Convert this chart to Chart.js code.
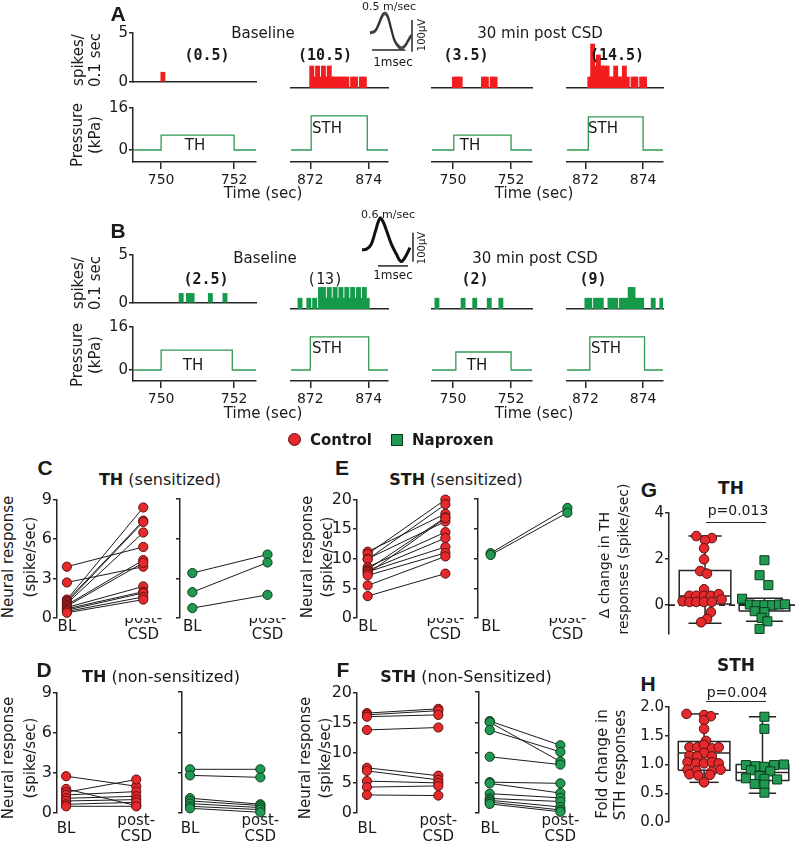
<!DOCTYPE html>
<html>
<head>
<meta charset="utf-8">
<script src="https://cdn.jsdelivr.net/npm/chart.js@4.4.1/dist/chart.umd.min.js"></script>
<style>
  html, body { margin: 0; padding: 0; background: #fff; overflow: hidden; }
  #fig { position: relative; width: 799px; height: 853px; overflow: hidden; background: #fff;
         font-family: "DejaVu Sans", Verdana, sans-serif; color: #1a1a1a; }
  #fig canvas { position: absolute; }
  .lbl { position: absolute; white-space: nowrap; line-height: 1; }
</style>
</head>
<body>
<div id="fig"></div>
<script>
// ---------------------------------------------------------------------------
// DATA
// ---------------------------------------------------------------------------

// Spike histograms: [bin start (sec), spikes in that 0.1 sec bin]
const histA_baseTH  = [[750.0, 1]];
const histA_baseSTH = [[872.0, 2], [872.1, 1], [872.2, 2], [872.3, 1], [872.4, 2], [872.5, 1], [872.6, 2],
                       [872.7, 1], [872.8, 1], [872.9, 1], [873.0, 1], [873.1, 1], [873.2, 1],
                       [873.4, 1], [873.5, 1], [873.7, 1], [873.8, 1]];
const histA_postTH  = [[750.0, 1], [750.1, 1], [750.2, 1], [751.0, 1], [751.1, 1], [751.3, 1], [751.4, 1]];
const histA_postSTH = [[872.1, 1], [872.2, 4], [872.3, 2], [872.4, 3], [872.5, 2], [872.6, 2], [872.7, 2],
                       [872.8, 1], [872.9, 1], [873.0, 2], [873.1, 1], [873.2, 1], [873.3, 2], [873.4, 1],
                       [873.6, 1], [873.7, 1], [873.9, 1], [874.0, 1]];
const histB_baseTH  = [[750.5, 1], [750.7, 1], [750.8, 1], [751.3, 1], [751.7, 1]];
const histB_baseSTH = [[871.6, 1], [871.9, 1], [872.1, 1], [872.3, 2], [872.4, 2], [872.5, 1], [872.6, 2],
                       [872.7, 1], [872.8, 2], [872.9, 1], [873.0, 2], [873.1, 1], [873.2, 2], [873.3, 1],
                       [873.4, 2], [873.5, 1], [873.6, 2], [873.7, 1], [873.8, 2], [873.9, 1]];
const histB_postTH  = [[749.4, 1], [750.3, 1], [750.7, 1], [751.2, 1], [751.6, 1]];
const histB_postSTH = [[872.0, 1], [872.1, 1], [872.3, 1], [872.4, 1], [872.5, 1], [872.8, 1], [872.9, 1],
                       [873.0, 1], [873.2, 1], [873.3, 1], [873.4, 1], [873.5, 2], [873.6, 2], [873.7, 1],
                       [873.8, 1], [873.9, 1], [874.3, 1], [874.6, 1]];

// Pressure steps, order: TH baseline, STH baseline, TH post-CSD, STH post-CSD
const pressA_on    = [750.0, 872.03, 750.03, 872.1];
const pressA_off   = [752.0, 873.95, 752.0, 874.0];
const pressA_level = [5.7, 13.0, 5.7, 12.6];          // kPa
const pressB_on    = [750.0, 872.0, 750.1, 872.15];
const pressB_off   = [751.95, 874.0, 752.0, 874.05];
const pressB_level = [7.4, 12.3, 6.7, 12.3];

// Spike waveforms (ms, µV)
const waveA1 = [[-0.45, 0], [-0.3, 6], [-0.18, 30], [-0.08, 55], [0, 62], [0.08, 52], [0.18, 15], [0.28, -22],
                [0.4, -42], [0.5, -47], [0.6, -40], [0.7, -22], [0.78, -8]];
const waveA2 = [[-0.45, 3], [-0.3, 9], [-0.18, 34], [-0.08, 58], [0, 65], [0.08, 56], [0.18, 20], [0.28, -18],
                [0.4, -38], [0.5, -44], [0.6, -37], [0.7, -20], [0.78, -5]];
const waveA3 = [[-0.45, -2], [-0.3, 3], [-0.18, 25], [-0.08, 50], [0, 58], [0.08, 48], [0.18, 10], [0.28, -26],
                [0.4, -45], [0.5, -50], [0.6, -43], [0.7, -26], [0.78, -11]];
const waveB  = [[-0.6, 0], [-0.45, 3], [-0.3, 18], [-0.15, 65], [0, 110], [0.1, 98], [0.22, 66], [0.38, 20],
                [0.55, -15], [0.7, -40], [0.82, -28], [1.0, 8]];

// C-F: neural response (spike/sec), baseline vs post-CSD, one entry per neuron
const thSensCtlBL     = [3.9, 2.7, 1.4, 1.3, 1.2, 1.1, 1.0, 0.9, 0.8, 0.7, 0.6, 0.5, 0.4];
const thSensCtlPost   = [5.4, 3.9, 8.4, 7.4, 7.3, 6.5, 4.4, 4.2, 2.4, 2.0, 1.9, 1.6, 1.4];
const thSensNapBL     = [3.4, 1.95, 0.75];
const thSensNapPost   = [4.8, 4.2, 1.75];
const thNonCtlBL      = [2.75, 1.8, 1.55, 1.35, 1.1, 0.9, 0.65, 0.5];
const thNonCtlPost    = [2.0, 0.55, 2.5, 1.6, 1.25, 1.0, 0.8, 0.5];
const thNonNapBL      = [3.25, 2.8, 1.1, 0.9, 0.7, 0.5, 0.35];
const thNonNapPost    = [3.25, 2.65, 0.65, 0.55, 0.4, 0.25, 0.05];
const sthSensCtlBL    = [11.2, 10.8, 10.0, 9.9, 8.6, 8.2, 8.0, 7.8, 7.5, 7.2, 5.5, 3.7];
const sthSensCtlPost  = [17.6, 20.0, 16.3, 19.2, 14.5, 17.0, 13.5, 12.0, 16.9, 11.0, 10.4, 7.5];
const sthSensNapBL    = [10.9, 10.6];
const sthSensNapPost  = [18.5, 17.7];
const sthNonCtlBL     = [16.6, 16.3, 16.0, 13.8, 7.5, 7.0, 5.3, 4.3, 3.0];
const sthNonCtlPost   = [17.3, 17.0, 16.3, 14.2, 6.2, 5.5, 5.0, 4.5, 2.9];
const sthNonNapBL     = [15.2, 15.0, 13.7, 9.3, 5.1, 4.9, 3.2, 2.4, 2.1, 1.8, 1.5];
const sthNonNapPost   = [11.2, 8.5, 10.1, 8.0, 4.9, 3.3, 2.5, 1.9, 1.0, 0.5, 0.2];

// G: delta change in TH responses (spike/sec)
const gCtl = [3.0, 2.91, 2.82, 2.47, 1.99, 1.48, 1.37, 0.69, 0.41, 0.41, 0.41, 0.41, 0.48, 0.17, 0.14, 0.14,
              0.14, 0.14, 0.25, -0.3, -0.6, -0.74];
const gNap = [1.95, 1.3, 0.87, 0.28, 0.03, 0.0, 0.0, 0.0, 0.03, 0.04, -0.26, -0.3, -0.55, -0.7, -1.03];
// box stats: [min, q1, median, q3, max]
const gCtlBox = [-0.78, 0.05, 0.4, 1.5, 3.0];
const gNapBox = [-0.7, -0.25, 0.0, 0.05, 0.3];

// H: fold change in STH responses
const hCtl = [1.88, 1.86, 1.84, 1.77, 1.62, 1.41, 1.30, 1.30, 1.34, 1.28, 1.30, 1.20, 1.15, 1.14, 1.14,
              1.04, 1.02, 1.02, 1.04, 1.02, 0.91, 0.89, 0.88, 0.91, 0.83, 0.81, 0.82, 0.69];
const hNap = [1.83, 1.62, 0.99, 0.97, 0.96, 0.99, 1.0, 0.9, 0.88, 0.8, 0.76, 0.75, 0.74, 0.66, 0.65, 0.51];
const hCtlBox = [0.69, 0.9, 1.2, 1.4, 1.88];
const hNapBox = [0.5, 0.72, 0.86, 1.0, 1.83];

// horizontal scatter of the dots (pixels from the group centre)
const gCtlJitter = [-9, 7, 0, -1, -1, -5, 2, -1, -16, -9, -1, 6, 14, -23, -16, -9, -1, 7, 17, 6, 2, -4];
const gNapJitter = [0, -5, 4, -23, -15, -8, 0, 8, 15, 21, -10, 0, -3, 3, -5];
const hCtlJitter = [-18, 0, 7, 0, 0, 2, -15, -7, 0, 8, 15, 0, -15, -7, 8, -17, -8, 0, 8, 15, -17, -8, 8, 17,
                    -15, -6, 6, 0];
const hNapJitter = [2, 2, -17, -7, 2, 12, 22, -12, 8, -3, -17, 2, 15, -8, 2, 2];

// ---------------------------------------------------------------------------
// STYLE / HELPERS
// ---------------------------------------------------------------------------
const AX = '#262626', TXT = '#1a1a1a';
const RED = '#f21d1f', RED_PT = '#e5292c', RED_EDGE = '#5a1111';
const GRN = '#15994a', GRN_PT = '#1f9a50', GRN_EDGE = '#0c3a1d', TRACE = '#2f9a50';
const FONT = '"DejaVu Sans", Verdana, sans-serif';
const MONO = '"DejaVu Sans Mono", monospace';
const ARIAL = '"Liberation Sans", Arial, sans-serif';

Chart.defaults.font.family = FONT;
Chart.defaults.color = TXT;

const fig = document.getElementById('fig');

function fixW(w) { return s => { s.width = w; }; }
function fixH(h) { return s => { s.height = h; }; }
function setTicks(vals) { return s => { s.ticks = vals.map(v => ({ value: v })); }; }

// area = chart area in page pixels; box = { yw, xh, pad:[l,t,r,b] }
function makeChart(area, box, config) {
  const [pl, pt, pr, pb] = box.pad;
  const w = area.x1 - area.x0 + box.yw + pl + pr;
  const h = area.y1 - area.y0 + box.xh + pt + pb;
  const cv = document.createElement('canvas');
  cv.width = w; cv.height = h;
  cv.style.left = (area.x0 - box.yw - pl) + 'px';
  cv.style.top = (area.y0 - pt) + 'px';
  cv.style.width = w + 'px'; cv.style.height = h + 'px';
  fig.appendChild(cv);
  config.options = Object.assign({
    responsive: false, animation: false, devicePixelRatio: 1, events: [],
    layout: { padding: { left: pl, top: pt, right: pr, bottom: pb } },
    plugins: { legend: { display: false }, tooltip: { enabled: false } }
  }, config.options);
  return new Chart(cv, config);
}

function txt(html, x, y, o = {}) {
  const d = document.createElement('div');
  d.className = 'lbl';
  d.innerHTML = html;
  d.style.left = x + 'px';
  d.style.top = y + 'px';
  d.style.fontSize = (o.size || 15) + 'px';
  if (o.bold) d.style.fontWeight = 'bold';
  if (o.family) d.style.fontFamily = o.family;
  const tx = o.left ? '0' : '-50%';
  d.style.transform = `translate(${tx},-50%)` + (o.rot ? ' rotate(-90deg)' : '');
  fig.appendChild(d);
}

function yAxis(min, max, ticks, width, showLabels, size) {
  return {
    min, max, afterBuildTicks: setTicks(ticks), afterFit: fixW(width),
    ticks: { display: showLabels, padding: 1, font: { size: size }, color: TXT },
    grid: { drawOnChartArea: false, tickLength: 4, color: AX, lineWidth: 1.5 },
    border: { color: AX, width: 1.5 }
  };
}

// ---------------------------------------------------------------------------
// A / B: histograms + pressure traces
// ---------------------------------------------------------------------------
const segX = [[133, 256], [267, 388], [408, 532], [543, 663]];
const segT = [[749.23, 752.6], [871.34, 874.66], [749.28, 752.72], [871.36, 874.69]];
const segTicks = [[750, 752], [872, 874], [750, 752], [872, 874]];

function histChart(area, tr, bins, color, showY) {
  const pxPerSec = (area.x1 - area.x0) / (tr[1] - tr[0]);
  return makeChart(area, { yw: showY ? 24 : 0, xh: 0, pad: [4, 10, 4, 4] }, {
    type: 'bar',
    data: { datasets: [{
      data: bins.map(b => ({ x: b[0] + 0.05, y: b[1] })),
      backgroundColor: color, borderWidth: 0, barThickness: pxPerSec * 0.1 + 0.6
    }] },
    options: { scales: {
      x: { type: 'linear', min: tr[0], max: tr[1], offset: false, afterFit: fixH(0),
           ticks: { display: false }, grid: { display: false }, border: { color: AX, width: 1.5 } },
      y: Object.assign(yAxis(0, 5, [0, 5], 24, true, 15), { display: showY })
    } }
  });
}

function pressChart(area, tr, ticks, on, off, level, ymin, showY) {
  const pts = [[tr[0], 0], [on, 0], [on, level], [off, level], [off, 0], [tr[1], 0]];
  return makeChart(area, { yw: showY ? 24 : 0, xh: 28, pad: [4, 10, 12, 2] }, {
    type: 'line',
    data: { datasets: [{
      data: pts.map(p => ({ x: p[0], y: p[1] })),
      borderColor: TRACE, borderWidth: 1.3, pointRadius: 0, tension: 0
    }] },
    options: { scales: {
      x: { type: 'linear', min: tr[0], max: tr[1], afterBuildTicks: setTicks(ticks), afterFit: fixH(28),
           ticks: { font: { size: 14 }, color: TXT, padding: 3, maxRotation: 0, autoSkip: false },
           grid: { drawOnChartArea: false, tickLength: 7, color: AX, lineWidth: 1.5 },
           border: { color: AX, width: 1.5 } },
      y: Object.assign(yAxis(ymin, 16, [0, 16], 24, true, 15), { display: showY })
    } }
  });
}

const rows = [
  { hist: [33, 88], press: [108, 162], pmin: -4.57, color: RED,
    bins: [histA_baseTH, histA_baseSTH, histA_postTH, histA_postSTH],
    on: pressA_on, off: pressA_off, lvl: pressA_level },
  { hist: [255, 309], press: [327, 381], pmin: -4.1, color: GRN,
    bins: [histB_baseTH, histB_baseSTH, histB_postTH, histB_postSTH],
    on: pressB_on, off: pressB_off, lvl: pressB_level }
];

rows.forEach(r => {
  segX.forEach((sx, i) => {
    histChart({ x0: sx[0], x1: sx[1], y0: r.hist[0], y1: r.hist[1] }, segT[i], r.bins[i], r.color, i === 0);
    pressChart({ x0: sx[0], x1: sx[1], y0: r.press[0], y1: r.press[1] }, segT[i], segTicks[i],
               r.on[i], r.off[i], r.lvl[i], r.pmin, i === 0);
  });
});

// spike waveform insets
function waveInset(area, xr, yr, waves, color, lw, hBar, vBar) {
  const ds = waves.map(w => ({
    data: w.map(p => ({ x: p[0], y: p[1] })), borderColor: color, borderWidth: lw,
    pointRadius: 0, tension: 0.4, clip: false
  }));
  [hBar, vBar].forEach(b => ds.push({
    data: b.map(p => ({ x: p[0], y: p[1] })), borderColor: AX, borderWidth: 1.5, pointRadius: 0, clip: false
  }));
  return makeChart(area, { yw: 0, xh: 0, pad: [2, 2, 2, 2] }, {
    type: 'line', data: { datasets: ds },
    options: { scales: {
      x: { type: 'linear', display: false, min: xr[0], max: xr[1] },
      y: { display: false, min: yr[0], max: yr[1] }
    } }
  });
}
waveInset({ x0: 360, x1: 416, y0: 10, y1: 55 }, [-0.75, 0.93], [-69, 72],
          [waveA1, waveA2, waveA3], 'rgba(40,40,40,0.75)', 1.6,
          [[-0.39, -53], [0.61, -53]], [[0.81, -59], [0.81, 41]]);
waveInset({ x0: 355, x1: 418, y0: 205, y1: 272 }, [-0.833, 1.267], [-76, 155],
          [waveB], '#111', 3,
          [[-0.067, -55], [0.933, -55]], [[1.1, -41], [1.1, 59]]);

// ---------------------------------------------------------------------------
// C-F: paired BL / post-CSD plots
// ---------------------------------------------------------------------------
function pairChart(px, y0, y1, ymax, step, bl, post, fill, edge, showLabels, labPad) {
  const span = px.post - px.bl;
  const xr = [(px.x0 - px.bl) / span, (px.x1 - px.bl) / span];
  const ds = [{
    type: 'scatter',
    data: bl.map(v => ({ x: 0, y: v })).concat(post.map(v => ({ x: 1, y: v }))),
    backgroundColor: fill, borderColor: edge, borderWidth: 1, pointRadius: 4.6, clip: false
  }];
  bl.forEach((v, i) => ds.push({
    type: 'line', data: [{ x: 0, y: v }, { x: 1, y: post[i] }],
    borderColor: '#1b1b1b', borderWidth: 1, pointRadius: 0, clip: false
  }));
  const ticks = [];
  for (let v = 0; v <= ymax; v += step) ticks.push(v);
  return makeChart({ x0: px.x0, x1: px.x1, y0, y1 }, { yw: 30, xh: 40, pad: [6, 10, 6, 2] }, {
    type: 'scatter', data: { datasets: ds },
    options: { scales: {
      x: { type: 'linear', min: xr[0], max: xr[1], afterBuildTicks: setTicks([0, 1]), afterFit: fixH(40),
           ticks: { callback: v => v === 0 ? 'BL' : ['post-', 'CSD'], crossAlign: 'center', padding: labPad,
                    font: { size: 15, lineHeight: 1.07 }, color: TXT, maxRotation: 0, autoSkip: false },
           grid: { display: false, drawTicks: false }, border: { display: false } },
      y: yAxis(0, ymax, ticks, 30, showLabels, 16)
    } }
  });
}

const C_L = { x0: 57, x1: 158, bl: 67, post: 144 }, C_R = { x0: 180, x1: 282, bl: 193, post: 272 };
const D_L = { x0: 57, x1: 158, bl: 67, post: 144 }, D_R = { x0: 182, x1: 282, bl: 191, post: 270 };
const E_L = { x0: 357, x1: 460, bl: 368, post: 448 }, E_R = { x0: 478, x1: 582, bl: 491, post: 570 };
const F_L = { x0: 357, x1: 460, bl: 368, post: 447 }, F_R = { x0: 479, x1: 582, bl: 491, post: 570 };

pairChart(C_L, 499, 618, 9, 3, thSensCtlBL, thSensCtlPost, RED_PT, RED_EDGE, true, 1);
pairChart(C_R, 499, 618, 9, 3, thSensNapBL, thSensNapPost, GRN_PT, GRN_EDGE, false, 1);
pairChart(D_L, 692, 813, 9, 3, thNonCtlBL, thNonCtlPost, RED_PT, RED_EDGE, true, 8);
pairChart(D_R, 692, 813, 9, 3, thNonNapBL, thNonNapPost, GRN_PT, GRN_EDGE, false, 8);
pairChart(E_L, 499, 618, 20, 5, sthSensCtlBL, sthSensCtlPost, RED_PT, RED_EDGE, true, 1);
pairChart(E_R, 499, 618, 20, 5, sthSensNapBL, sthSensNapPost, GRN_PT, GRN_EDGE, false, 1);
pairChart(F_L, 692, 813, 20, 5, sthNonCtlBL, sthNonCtlPost, RED_PT, RED_EDGE, true, 8);
pairChart(F_R, 692, 813, 20, 5, sthNonNapBL, sthNonNapPost, GRN_PT, GRN_EDGE, false, 8);

// ---------------------------------------------------------------------------
// G / H: box plots with individual neurons
// ---------------------------------------------------------------------------
const PXU = 61;   // pixels per group unit on x

function boxChart(area, yr, ticks, fmt, groups, zeroLine) {
  const xr = [1 - (706 - area.x0) / PXU, 1 + (area.x1 - 706) / PXU];
  const ds = groups.map(g => ({
    type: 'scatter',
    data: g.vals.map((v, i) => ({ x: g.c + g.jit[i] / PXU, y: v })),
    pointStyle: g.shape, pointRadius: g.r, backgroundColor: g.fill, borderColor: g.edge,
    borderWidth: 1, clip: false
  }));
  const seg = pts => ds.push({
    type: 'line', data: pts.map(p => ({ x: p[0], y: p[1] })), borderColor: AX, borderWidth: 1.5,
    borderJoinStyle: 'miter', pointRadius: 0, clip: false
  });
  groups.forEach(g => {
    const [lo, q1, md, q3, hi] = g.box;
    const c = g.c, hw = g.hw / PXU, cw = g.cw / PXU;
    seg([[c, q3], [c, hi]]);
    seg([[c, q1], [c, lo]]);
    seg([[c - cw, hi], [c + cw, hi]]);
    seg([[c - cw, lo], [c + cw, lo]]);
    seg([[c - hw, md], [c + hw, md]]);
    seg([[c - hw, q1], [c + hw, q1], [c + hw, q3], [c - hw, q3], [c - hw, q1]]);
  });
  if (zeroLine) ds.push({
    type: 'line', data: [{ x: xr[0], y: 0 }, { x: xr[1], y: 0 }], borderColor: AX, borderWidth: 1.8,
    borderDash: [6, 4], pointRadius: 0, clip: false
  });
  return makeChart(area, { yw: 30, xh: 0, pad: [6, 10, 4, 4] }, {
    type: 'scatter', data: { datasets: ds },
    options: { scales: {
      x: { type: 'linear', display: false, min: xr[0], max: xr[1] },
      y: Object.assign(yAxis(yr[0], yr[1], ticks, 30, true, 15),
                       { ticks: { padding: 1, font: { size: 15 }, color: TXT, callback: fmt } })
    } }
  });
}

boxChart({ x0: 669, x1: 799, y0: 513, y1: 640 }, [-1.25, 4], [0, 2, 4], v => String(v), [
  { c: 1, vals: gCtl, jit: gCtlJitter, box: gCtlBox, shape: 'circle', r: 4.8, fill: RED_PT, edge: RED_EDGE, hw: 26.5, cw: 17 },
  { c: 2, vals: gNap, jit: gNapJitter, box: gNapBox, shape: 'rect', r: 6.4, fill: GRN_PT, edge: GRN_EDGE, hw: 26, cw: 19 }
], true);
boxChart({ x0: 669, x1: 799, y0: 707, y1: 828 }, [0, 2], [0, 0.5, 1, 1.5, 2], v => v.toFixed(1), [
  { c: 0.984, vals: hCtl, jit: hCtlJitter, box: hCtlBox, shape: 'circle', r: 4.8, fill: RED_PT, edge: RED_EDGE, hw: 26.5, cw: 15 },
  { c: 1.967, vals: hNap, jit: hNapJitter, box: hNapBox, shape: 'rect', r: 6.4, fill: GRN_PT, edge: GRN_EDGE, hw: 27, cw: 14 }
], false);

// ---------------------------------------------------------------------------
// TEXT
// ---------------------------------------------------------------------------
// panel letters
[['A', 118, 13], ['B', 118, 230], ['C', 45, 467], ['D', 44, 669], ['E', 342, 467], ['F', 343, 669],
 ['G', 649, 489], ['H', 648, 683]].forEach(l => txt(l[0], l[1], l[2], { size: 21, bold: true, family: ARIAL }));

// A / B annotations
txt('Baseline', 263, 33); txt('30 min post CSD', 540, 33);
txt('Baseline', 265, 258); txt('30 min post CSD', 535, 258);
txt('(0.5)', 207, 55, { bold: true, family: MONO }); txt('(10.5)', 325, 55, { bold: true, family: MONO });
txt('(3.5)', 466, 55, { bold: true, family: MONO }); txt('(14.5)', 617, 55, { bold: true, family: MONO });
txt('(2.5)', 206, 279, { bold: true, family: MONO }); txt('(13)', 325, 279, { family: MONO });
txt('(2)', 475, 279, { bold: true, family: MONO }); txt('(9)', 593, 279, { bold: true, family: MONO });
[[145, 128], [365, 348]].forEach(([yt, ys], k) => {
  txt('TH', k ? 193 : 195, yt); txt('STH', 327, ys);
  txt('TH', k ? 477 : 470, yt); txt('STH', k ? 606 : 603, ys);
});
[193, 413].forEach(y => { txt('Time (sec)', 263, y); txt('Time (sec)', 534, y); });
[[60, 135], [283, 355]].forEach(([yh, yp]) => {
  txt('spikes/', 78, yh, { rot: true }); txt('0.1 sec', 95, yh, { rot: true });
  txt('Pressure', 77, yp, { rot: true }); txt('(kPa)', 95, yp, { rot: true });
});
txt('0.5 m/sec', 389, 6, { size: 11 }); txt('1msec', 393, 62, { size: 12 }); txt('100μV', 422, 35, { size: 10, rot: true });
txt('0.6 m/sec', 388, 214, { size: 11 }); txt('1msec', 393, 275, { size: 12 }); txt('100μV', 422, 248, { size: 10, rot: true });

// legend
const dot = document.createElement('div');
dot.style.cssText = `position:absolute;left:288px;top:433px;width:13px;height:13px;border-radius:50%;background:${RED_PT};border:1px solid ${RED_EDGE};box-sizing:border-box`;
fig.appendChild(dot);
const sq = document.createElement('div');
sq.style.cssText = `position:absolute;left:391px;top:434px;width:12px;height:12px;background:${GRN_PT};border:1px solid ${GRN_EDGE};box-sizing:border-box`;
fig.appendChild(sq);
txt('Control', 310, 440, { bold: true, left: true }); txt('Naproxen', 412, 440, { bold: true, left: true });

// C-F titles
txt('<b>TH</b> (sensitized)', 160, 480, { size: 16 });
txt('<b>TH</b> (non-sensitized)', 161, 677, { size: 16 });
txt('<b>STH</b> (sensitized)', 456, 480, { size: 16 });
txt('<b>STH</b> (non-Sensitized)', 466, 677, { size: 16 });
[[8, 30, 557], [8, 30, 758], [307, 327, 557], [305, 325, 758]].forEach(([a, b, y]) => {
  txt('Neural response', a, y, { rot: true }); txt('(spike/sec)', b, y, { rot: true });
});

// G / H titles and stats
txt('TH', 731, 488, { size: 17, bold: true }); txt('STH', 736, 665, { size: 17, bold: true });
txt('p=0.013', 738, 510, { size: 14 }); txt('p=0.004', 737, 692, { size: 14 });
[522, 701].forEach(y => {
  const ln = document.createElement('div');
  ln.style.cssText = `position:absolute;left:706px;top:${y}px;width:60px;height:0;border-top:1.5px solid ${AX}`;
  fig.appendChild(ln);
});
txt('Δ change in TH', 604, 565, { size: 14, rot: true }); txt('responses (spike/sec)', 623, 559, { size: 14, rot: true });
txt('Fold change in', 602, 764, { size: 15, rot: true }); txt('STH responses', 620, 765, { size: 15, rot: true });
</script>
</body>
</html>
